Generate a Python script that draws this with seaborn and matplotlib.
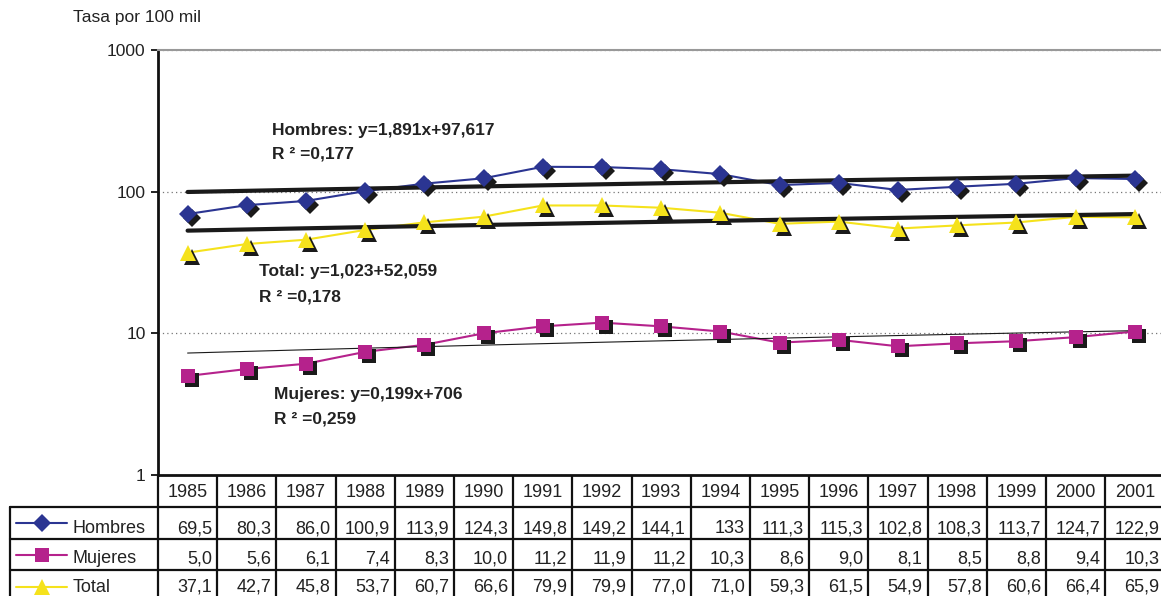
import numpy as np
import matplotlib
matplotlib.use("Agg")
import matplotlib.pyplot as plt
import seaborn as sns
from matplotlib.transforms import offset_copy
from matplotlib.ticker import FixedLocator, NullLocator

# Datos
anios = list(range(1985, 2002))
hombres = [69.5, 80.3, 86.0, 100.9, 113.9, 124.3, 149.8, 149.2, 144.1, 133, 111.3,
           115.3, 102.8, 108.3, 113.7, 124.7, 122.9]
mujeres = [5.0, 5.6, 6.1, 7.4, 8.3, 10.0, 11.2, 11.9, 11.2, 10.3, 8.6, 9.0, 8.1, 8.5,
           8.8, 9.4, 10.3]
total = [37.1, 42.7, 45.8, 53.7, 60.7, 66.6, 79.9, 79.9, 77.0, 71.0, 59.3, 61.5, 54.9,
         57.8, 60.6, 66.4, 65.9]

# tendencias lineales del grafico (pendiente, intercepto), x = 1..17
tend_hombres = (1.891, 97.617)
tend_mujeres = (0.199, 7.06)
tend_total = (1.023, 52.059)

# valores que en la tabla van sin decimal
sin_decimal = {("Hombres", 1994)}

sns.set_style("white")
plt.rcParams['font.family'] = ['Liberation Sans', 'DejaVu Sans']
texto = '#222222'

W, H = 1161, 596
fig = plt.figure(figsize=(W / 100, H / 100), dpi=100)

# geometria de la tabla / eje (pixeles)
x0, cw = 158, 59.2
y_top, y_bot = 50, 475
filas = [475, 507, 539, 570, 602]
base_txt = [497, 533, 563, 592]

# --- tabla de datos ---
tab = fig.add_axes([0, 0, 1, 1])
tab.set_xlim(0, W)
tab.set_ylim(H, 0)
tab.axis('off')

ncol = len(anios)
x_fin = x0 + ncol * cw
lw_tab = 1.6
for i in range(ncol + 1):
    tab.plot([x0 + i * cw] * 2, [filas[0], filas[-1]], color='#111111', lw=lw_tab,
             solid_capstyle='butt')
tab.plot([10, 10], [filas[1], filas[-1]], color='#111111', lw=lw_tab)
for yy in filas[1:-1]:
    tab.plot([10, x_fin], [yy, yy], color='#111111', lw=lw_tab)

for i, a in enumerate(anios):
    tab.text(x0 + (i + 0.5) * cw, base_txt[0], str(a), ha='center', va='baseline',
             fontsize=13, color=texto)

series = [
    ("Hombres", hombres, '#2B3592', 'D', 9.5, tend_hombres, 3.0),
    ("Mujeres", mujeres, '#B5228C', 's', 10, tend_mujeres, 0.8),
    ("Total", total, '#F5E21C', '^', 12, tend_total, 3.0),
]

for r, (nombre, vals, col, mk, ms, tend, lwt) in enumerate(series):
    yb = base_txt[r + 1]
    yc = (filas[r + 1] + filas[r + 2]) / 2
    if r == 2:
        yc = 587
    tab.plot([16, 67], [yc, yc], color=col, lw=1.5)
    tab.plot([42], [yc], marker=mk, color=col, ms=ms, mew=0)
    tab.text(73, yb, nombre, ha='left', va='baseline', fontsize=13, color=texto)
    for i, v in enumerate(vals):
        if (nombre, anios[i]) in sin_decimal:
            s = f"{v:.0f}"
        else:
            s = f"{v:.1f}".replace('.', ',')
        tab.text(x0 + (i + 1) * cw - 5, yb, s, ha='right', va='baseline',
                 fontsize=13, color=texto)

# --- grafico ---
ax = fig.add_axes([x0 / W, (H - y_bot) / H, (x_fin - x0) / W, (y_bot - y_top) / H])
ax.set_facecolor('none')
ax.set_yscale('log')
ax.set_ylim(1, 1000)
ax.set_xlim(anios[0] - 0.5, anios[-1] + 0.5)

sombra = offset_copy(ax.transData, fig=fig, x=4, y=-4, units='dots')
x_idx = np.arange(1, len(anios) + 1)
for nombre, vals, col, mk, ms, tend, lwt in series:
    m, b = tend
    ax.plot(anios, m * x_idx + b, color='#1a1a1a', lw=lwt, zorder=3)
    sns.lineplot(x=anios, y=vals, ax=ax, color=col, lw=1.5, zorder=2)
    ax.plot(anios, vals, ls='none', marker=mk, ms=ms, mew=0, color='#1a1a1a',
            transform=sombra, zorder=4)
    ax.plot(anios, vals, ls='none', marker=mk, ms=ms, mew=0, color=col, zorder=5)

ax.yaxis.set_major_locator(FixedLocator([1, 10, 100, 1000]))
ax.yaxis.set_minor_locator(NullLocator())
ax.set_yticklabels(["1", "10", "100", "1000"])
ax.set_xticks([])
ax.tick_params(axis='y', direction='out', length=5, width=1.3, color='#111111',
               labelsize=12.5, labelcolor=texto, pad=4, left=True)
ax.grid(axis='y', linestyle=(0, (1, 2.5)), color='#777777', lw=0.9)
ax.grid(axis='x', visible=False)
ax.spines['left'].set_color('#111111')
ax.spines['left'].set_linewidth(2)
ax.spines['bottom'].set_color('#111111')
ax.spines['bottom'].set_linewidth(2)
ax.spines['top'].set_color('#999999')
ax.spines['top'].set_linewidth(1.5)
ax.spines['right'].set_visible(False)
ax.set_xlabel("")
ax.set_ylabel("")

# ecuaciones de tendencia
notas = [
    (0.1137, 0.8005, 0.7441, "Hombres: y=1,891x+97,617", "R ² =0,177"),
    (0.1007, 0.4671, 0.4085, "Total: y=1,023+52,059", "R ² =0,178"),
    (0.1157, 0.1784, 0.1221, "Mujeres: y=0,199x+706", "R ² =0,259"),
]
for xt, y1, y2, eq, r2 in notas:
    ax.text(xt, y1, eq, transform=ax.transAxes, fontsize=12.5, fontweight='bold',
            color=texto, va='baseline')
    ax.text(xt, y2, r2, transform=ax.transAxes, fontsize=12.5, fontweight='bold',
            color=texto, va='baseline')

fig.text(73 / W, (H - 22) / H, "Tasa por 100 mil", fontsize=12.5, color=texto,
         va='baseline', ha='left')

fig.savefig("out.png", dpi=100)
